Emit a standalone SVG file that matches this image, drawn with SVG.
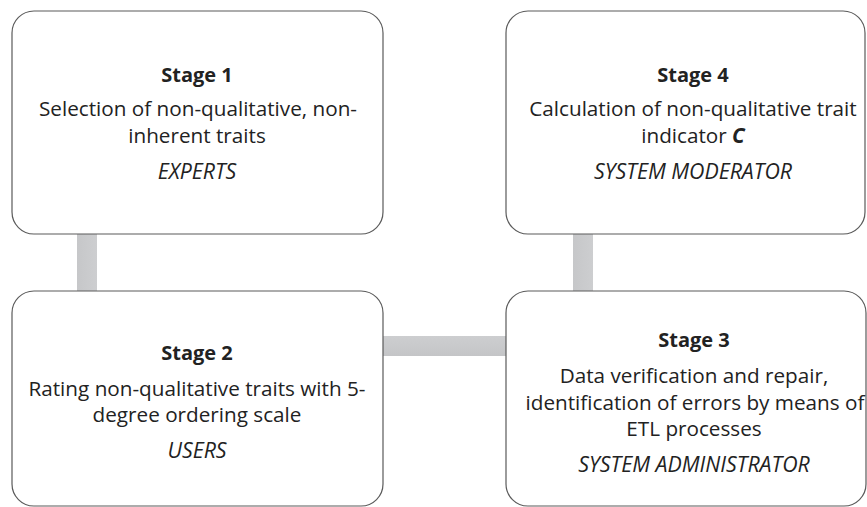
<svg xmlns="http://www.w3.org/2000/svg" width="867" height="507" viewBox="0 0 867 507">
<defs>
<linearGradient id="gv" x1="0" y1="0" x2="1" y2="0"><stop offset="0" stop-color="#c6c7c9"/><stop offset="1" stop-color="#cdced0"/></linearGradient>
<linearGradient id="gh" x1="0" y1="0" x2="0" y2="1"><stop offset="0" stop-color="#cdced0"/><stop offset="1" stop-color="#c4c5c7"/></linearGradient>
</defs>
<style>
.box{fill:#fff;stroke:#5a5a5a;stroke-width:1.2}
text{font-family:"Open Sans","Noto Sans","Liberation Sans",sans-serif;font-size:20.7px;fill:#222;text-anchor:middle}
.t{font-weight:bold;font-size:20px}
.r{font-style:italic;font-size:21.3px}
</style>
<g id="connectors">
<rect x="77" y="234" width="20" height="57" fill="url(#gv)"/>
<rect x="573" y="234" width="20" height="57" fill="url(#gv)"/>
<rect x="383" y="336" width="123" height="20" fill="url(#gh)"/>
</g>
<g id="stage1">
<rect class="box" x="12" y="11" width="371" height="223" rx="22"/>
<text class="t" x="197" y="82">Stage 1</text>
<text x="198" y="116">Selection of non-qualitative, non-</text>
<text x="197" y="143">inherent traits</text>
<text class="r" x="197" y="179">EXPERTS</text>
</g>
<g id="stage4">
<rect class="box" x="506" y="11" width="359" height="223" rx="22"/>
<text class="t" x="693" y="82">Stage 4</text>
<text x="693" y="116">Calculation of non-qualitative trait</text>
<text x="693" y="143">indicator <tspan font-weight="bold" font-style="italic">C</tspan></text>
<text class="r" x="693" y="179">SYSTEM MODERATOR</text>
</g>
<g id="stage2">
<rect class="box" x="12" y="291" width="371" height="215" rx="22"/>
<text class="t" x="197" y="360">Stage 2</text>
<text x="197" y="396">Rating non-qualitative traits with 5-</text>
<text x="197" y="422">degree ordering scale</text>
<text class="r" x="197" y="458">USERS</text>
</g>
<g id="stage3">
<rect class="box" x="506" y="291" width="360" height="215" rx="22"/>
<text class="t" x="694" y="347">Stage 3</text>
<text x="694" y="383">Data verification and repair,</text>
<text x="695" y="410">identification of errors by means of</text>
<text x="694" y="436">ETL processes</text>
<text class="r" x="694" y="472">SYSTEM ADMINISTRATOR</text>
</g>
</svg>
